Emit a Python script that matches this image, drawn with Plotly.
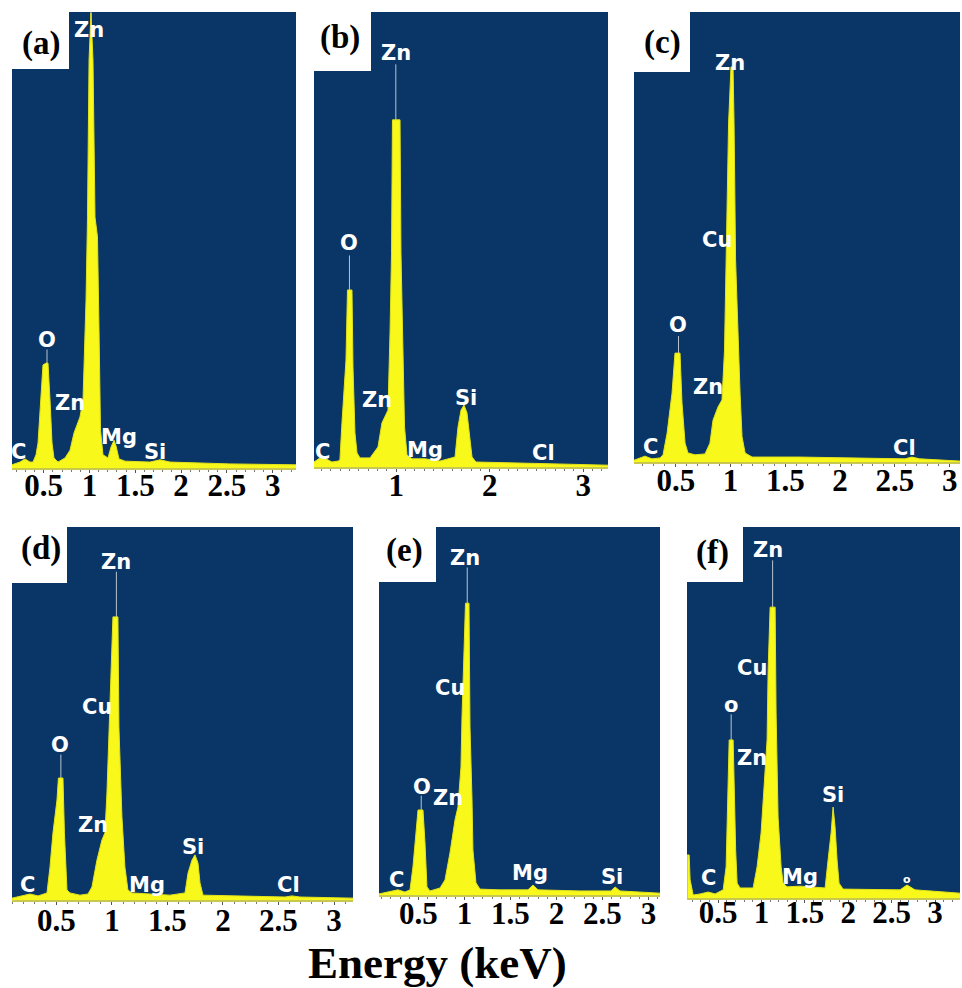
import plotly.graph_objects as go

W, H = 962, 988

# ---------------- data (energy in keV, counts in % of panel full scale) ----------------
a_energy = [0.154, 0.241, 0.296, 0.35, 0.383, 0.416, 0.438, 0.471, 0.492, 0.525, 0.547, 0.569, 0.591, 0.612,
            0.656, 0.733, 0.787, 0.831, 0.896, 0.929, 0.962, 0.978, 0.995, 1.016, 1.038, 1.06, 1.087, 1.104,
            1.12, 1.147, 1.202, 1.235, 1.268, 1.29, 1.322, 1.388, 1.66, 1.77, 1.879, 2.53, 3.254]
a_counts = [0.7, 1.3, 2.0, 1.3, 1.3, 2.9, 5.5, 14.9, 22.6, 23.0, 23.0, 14.9, 5.5, 2.2,
            1.3, 2.2, 3.9, 7.7, 11.2, 14.9, 36.8, 55.0, 89.5, 99.8, 89.5, 55.0, 50.7, 30.3,
            8.3, 2.9, 2.2, 4.6, 6.1, 4.8, 2.0, 1.5, 1.3, 1.8, 1.3, 0.9, 0.7]

b_energy = [0.121, 0.185, 0.249, 0.313, 0.377, 0.398, 0.42, 0.436, 0.463, 0.479, 0.527, 0.538, 0.559, 0.581,
            0.613, 0.72, 0.805, 0.848, 0.88, 0.912, 0.934, 0.95, 0.96, 1.041, 1.051, 1.073, 1.089, 1.116,
            1.17, 1.308, 1.468, 1.629, 1.661, 1.693, 1.725, 1.757, 1.779, 1.811, 1.853, 2.324, 3.265]
b_counts = [1.1, 2.0, 1.8, 1.1, 1.3, 1.5, 9.7, 14.7, 23.5, 38.9, 38.9, 22.0, 7.5, 3.1,
            2.0, 2.0, 4.4, 9.7, 11.0, 12.5, 29.5, 47.0, 76.3, 76.3, 47.0, 23.5, 8.8, 2.6,
            1.8, 1.8, 1.3, 2.2, 8.8, 12.5, 13.6, 11.9, 7.5, 2.2, 1.1, 0.9, 0.4]

c_energy = [0.119, 0.174, 0.219, 0.283, 0.357, 0.384, 0.421, 0.466, 0.493, 0.539, 0.557, 0.585, 0.612, 0.676,
            0.767, 0.812, 0.84, 0.885, 0.922, 0.945, 0.963, 0.982, 1.004, 1.023, 1.032, 1.046, 1.087, 1.105,
            1.133, 1.197, 1.634, 2.181, 2.591, 2.655, 2.727, 3.094]
c_counts = [0.4, 0.9, 1.3, 0.7, 0.9, 1.6, 6.4, 15.3, 24.2, 24.2, 13.1, 4.2, 2.0, 1.6,
            1.8, 4.2, 9.3, 12.2, 13.8, 24.9, 50.9, 75.3, 87.8, 87.8, 75.3, 44.9, 15.3, 5.6,
            2.0, 1.1, 1.1, 0.9, 0.7, 1.1, 0.7, 0.2]

d_energy = [0.10, 0.19, 0.262, 0.334, 0.397, 0.415, 0.442, 0.469, 0.505, 0.518, 0.559, 0.572, 0.595, 0.622,
            0.712, 0.784, 0.82, 0.865, 0.91, 0.937, 0.955, 0.982, 1.009, 1.054, 1.063, 1.09, 1.117, 1.144,
            1.18, 1.343, 1.523, 1.658, 1.685, 1.721, 1.748, 1.775, 1.793, 1.82, 2.064, 2.559, 2.622, 2.694, 3.171]
d_counts = [0.5, 1.1, 1.6, 1.1, 1.6, 1.9, 8.8, 18.0, 26.8, 32.7, 32.7, 18.0, 2.7, 1.9,
            1.3, 1.6, 3.5, 10.7, 16.1, 18.0, 28.7, 50.1, 75.9, 75.9, 46.4, 22.3, 8.8, 2.7,
            1.9, 1.6, 1.3, 1.9, 7.2, 10.7, 12.1, 9.9, 4.6, 1.3, 1.1, 0.8, 1.1, 0.8, 0.5]

e_energy = [0.071, 0.114, 0.19, 0.277, 0.353, 0.408, 0.44, 0.473, 0.495, 0.549, 0.571, 0.592, 0.625, 0.734,
            0.788, 0.842, 0.897, 0.929, 0.962, 0.973, 0.984, 1.011, 1.049, 1.06, 1.082, 1.092, 1.125, 1.168,
            1.386, 1.69, 1.745, 1.799, 2.256, 2.592, 2.636, 2.69, 3.125]
e_counts = [0.3, 0.5, 0.8, 1.4, 0.8, 1.4, 7.6, 16.8, 23.1, 23.1, 14.1, 2.2, 1.1, 1.9,
            4.1, 11.4, 20.4, 23.9, 34.8, 48.4, 57.6, 79.3, 79.3, 45.7, 25.8, 12.2, 3.3, 1.6,
            1.4, 1.4, 2.7, 1.4, 1.1, 1.1, 2.2, 1.1, 0.5]

f_energy = [0.143, 0.166, 0.177, 0.212, 0.293, 0.385, 0.465, 0.558, 0.592, 0.609, 0.627, 0.673, 0.685, 0.702,
            0.719, 0.753, 0.903, 0.949, 0.995, 1.018, 1.041, 1.064, 1.076, 1.099, 1.157, 1.168, 1.191, 1.226,
            1.249, 1.295, 1.445, 1.617, 1.733, 1.767, 1.802, 1.825, 1.848, 1.871, 1.894, 1.94, 2.366, 2.597,
            2.677, 2.769, 3.288]
f_counts = [11.6, 11.6, 4.9, 0.8, 1.1, 1.6, 1.1, 2.2, 8.4, 26.4, 42.6, 42.6, 28.3, 12.9,
            4.0, 2.7, 2.7, 8.4, 17.5, 26.4, 32.6, 42.6, 61.5, 78.4, 78.4, 49.9, 21.8, 8.4,
            4.0, 3.0, 3.2, 3.0, 2.7, 10.2, 17.5, 24.5, 19.1, 10.2, 4.0, 2.4, 2.2, 2.2,
            3.5, 2.2, 1.3]

# element labels per panel: names, energies (keV), label heights (%)
a_el = ["C", "O", "Zn", "Zn", "Mg", "Si"]
a_el_e = [0.22, 0.536, 0.787, 0.995, 1.322, 1.715]
a_el_h = [3.5, 28.1, 14.3, 96.1, 6.8, 3.5]
b_el = ["C", "O", "Zn", "Zn", "Mg", "Si", "Cl"]
b_el_e = [0.217, 0.495, 0.795, 0.998, 1.308, 1.747, 2.57]
b_el_h = [3.3, 49.2, 14.7, 91.0, 3.7, 15.2, 3.1]
c_el = ["C", "O", "Zn", "Cu", "Zn", "Cl"]
c_el_e = [0.266, 0.521, 0.795, 0.877, 0.995, 2.592]
c_el_h = [3.3, 30.4, 16.7, 49.3, 88.7, 3.1]
d_el = ["C", "O", "Zn", "Cu", "Zn", "Mg", "Si", "Cl"]
d_el_e = [0.244, 0.532, 0.829, 0.865, 1.037, 1.316, 1.73, 2.586]
d_el_h = [4.0, 41.6, 20.1, 51.7, 90.6, 4.0, 14.2, 4.0]
e_el = ["C", "O", "Zn", "Cu", "Zn", "Mg", "Si"]
e_el_e = [0.266, 0.538, 0.821, 0.842, 1.005, 1.712, 2.603]
e_el_h = [4.1, 29.3, 26.4, 56.3, 91.6, 6.0, 4.9]
f_el = ["C", "o", "Zn", "Cu", "Zn", "Mg", "Si", "o"]
f_el_e = [0.385, 0.65, 0.891, 0.891, 1.076, 1.445, 1.825, 2.677]
f_el_h = [5.4, 52.0, 37.7, 62.0, 93.8, 5.7, 27.8, 4.9]

# KLM marker lines (energy, top %)
a_mk_e = [0.536, 1.016]; a_mk_h = [26.0, 100.0]
b_mk_e = [0.5, 0.996]; b_mk_h = [46.5, 88.5]
c_mk_e = [0.525, 1.013]; c_mk_h = [28.0, 86.0]
d_mk_e = [0.54, 1.04]; d_mk_h = [39.0, 88.0]
e_mk_e = [0.53, 1.03]; e_mk_h = [27.0, 89.0]
f_mk_e = [0.65, 1.128]; f_mk_h = [49.5, 91.0]

tick_vals_full = [0.5, 1, 1.5, 2, 2.5, 3]
tick_text_full = ["0.5", "1", "1.5", "2", "2.5", "3"]
tick_vals_b = [1, 2, 3]
tick_text_b = ["1", "2", "3"]

panel_names = ["(a)", "(b)", "(c)", "(d)", "(e)", "(f)"]

# ---------------- layout geometry (pixels) ----------------
panels = [
    dict(e=a_energy, c=a_counts, el=a_el, ele=a_el_e, elh=a_el_h, mke=a_mk_e, mkh=a_mk_h,
         xr=[0.154, 3.254], px=(12, 296), py=(12, 468), box=(69, 69), lab=(41, 43), lift=13,
         tv=tick_vals_full, tt=tick_text_full),
    dict(e=b_energy, c=b_counts, el=b_el, ele=b_el_e, elh=b_el_h, mke=b_mk_e, mkh=b_mk_h,
         xr=[0.121, 3.265], px=(314, 608), py=(12, 467), box=(371, 71), lab=(340, 38), lift=12,
         tv=tick_vals_b, tt=tick_text_b),
    dict(e=c_energy, c=c_counts, el=c_el, ele=c_el_e, elh=c_el_h, mke=c_mk_e, mkh=c_mk_h,
         xr=[0.119, 3.094], px=(634, 960), py=(12, 462), box=(690, 72), lab=(662, 42), lift=12,
         tv=tick_vals_full, tt=tick_text_full),
    dict(e=d_energy, c=d_counts, el=d_el, ele=d_el_e, elh=d_el_h, mke=d_mk_e, mkh=d_mk_h,
         xr=[0.10, 3.171], px=(12, 353), py=(527, 900), box=(67, 583), lab=(41, 548), lift=10,
         tv=tick_vals_full, tt=tick_text_full),
    dict(e=e_energy, c=e_counts, el=e_el, ele=e_el_e, elh=e_el_h, mke=e_mk_e, mkh=e_mk_h,
         xr=[0.071, 3.125], px=(379, 660), py=(527, 895), box=(436, 582), lab=(404, 550), lift=12,
         tv=tick_vals_full, tt=tick_text_full),
    dict(e=f_energy, c=f_counts, el=f_el, ele=f_el_e, elh=f_el_h, mke=f_mk_e, mkh=f_mk_h,
         xr=[0.141, 3.288], px=(687, 960), py=(527, 898), box=(743, 582), lab=(712, 552), lift=16,
         tv=tick_vals_full, tt=tick_text_full),
]

NAVY = "#0A3567"
YELLOW = "#F8F81A"
TICKFONT = dict(family="Liberation Serif", size=31, color="black", weight="bold")

fig = go.Figure()
shapes = []
annotations = []

for i, p in enumerate(panels):
    n = "" if i == 0 else str(i + 1)
    xa, ya = "x" + n, "y" + n
    ln = str(i + 7)  # overlay axis carrying the tick labels
    x0, x1 = p["px"]
    y0, y1 = p["py"]
    # marker lines (beneath spectrum)
    for me, mh in zip(p["mke"], p["mkh"]):
        fig.add_trace(go.Scatter(x=[me, me], y=[0, mh], mode="lines", xaxis=xa, yaxis=ya,
                                 line=dict(color="#B8C4CC", width=1), hoverinfo="skip", showlegend=False))
    fig.add_trace(go.Scatter(x=p["e"], y=p["c"], mode="lines", fill="tozeroy", xaxis=xa, yaxis=ya,
                             fillcolor=YELLOW, line=dict(color="#E2E21A", width=1),
                             hoverinfo="skip", showlegend=False))
    fig.add_trace(go.Scatter(x=[], y=[], xaxis="x" + ln, yaxis=ya, showlegend=False, hoverinfo="skip"))
    fig.layout["xaxis" + n] = dict(
        domain=[x0 / W, x1 / W], range=p["xr"], anchor=ya,
        showgrid=False, zeroline=False, showline=True, linecolor="#C8C850", linewidth=2,
        ticks="outside", ticklen=3, tickcolor="#555555", tickwidth=1,
        tickvals=p["tv"], showticklabels=False,
        minor=dict(dtick=0.1, tick0=0, ticks="outside", ticklen=2, tickcolor="#777777"),
        fixedrange=True,
    )
    fig.layout["xaxis" + ln] = dict(
        domain=[x0 / W, x1 / W], range=p["xr"], overlaying=xa, anchor="free",
        position=1 - (y1 - p["lift"]) / H, side="bottom",
        showgrid=False, zeroline=False, showline=False,
        ticks="outside", ticklen=3, tickcolor="rgba(0,0,0,0)",
        tickvals=p["tv"], ticktext=p["tt"], tickfont=TICKFONT, fixedrange=True,
    )
    fig.layout["yaxis" + n] = dict(
        domain=[1 - y1 / H, 1 - y0 / H], range=[0, 100], anchor=xa,
        visible=False, fixedrange=True,
    )
    # white corner box
    shapes.append(dict(type="rect", xref="paper", yref="paper",
                       x0=x0 / W, x1=p["box"][0] / W, y0=1 - p["box"][1] / H, y1=1 - y0 / H,
                       fillcolor="white", line=dict(width=0), layer="above"))
    annotations.append(dict(text=panel_names[i], xref="paper", yref="paper",
                            x=p["lab"][0] / W, y=1 - p["lab"][1] / H, showarrow=False,
                            xanchor="center", yanchor="middle",
                            font=dict(family="Liberation Serif", size=33, color="black", weight="bold")))
    for name, ee, hh in zip(p["el"], p["ele"], p["elh"]):
        sz = 21
        if i == 5 and name == "o" and ee > 2:
            sz = 11
        annotations.append(dict(text=name, xref=xa, yref=ya, x=ee, y=hh, showarrow=False,
                                xanchor="center", yanchor="middle",
                                font=dict(family="DejaVu Sans", size=sz, color="white", weight="bold")))

annotations.append(dict(text="Energy (keV)", xref="paper", yref="paper", x=437 / W, y=1 - 963 / H,
                        showarrow=False, xanchor="center", yanchor="middle",
                        font=dict(family="Liberation Serif", size=45, color="black", weight="bold")))

fig.update_layout(width=W, height=H, margin=dict(l=0, r=0, t=0, b=0),
                  paper_bgcolor="white", plot_bgcolor=NAVY,
                  shapes=shapes, annotations=annotations, showlegend=False)

fig.write_html("out.html", config={"displayModeBar": False})
